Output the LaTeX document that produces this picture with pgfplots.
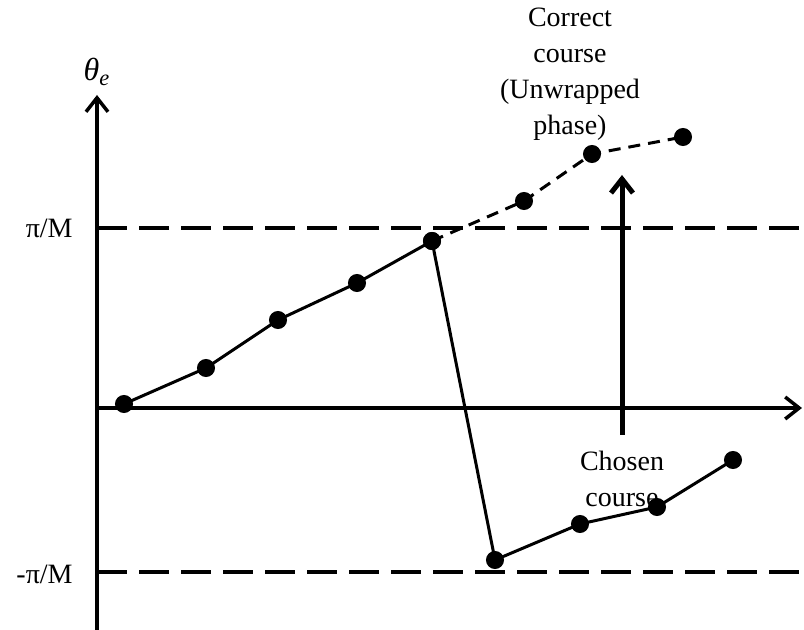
\documentclass[border=0pt]{standalone}
\usepackage{fontspec}
\setmainfont{Liberation Serif}
\usepackage{pgfplots}
\pgfplotsset{compat=1.18}
\usetikzlibrary{arrows.meta}
\begin{document}
\begin{tikzpicture}
\begin{axis}[
  scale only axis, width=402pt, height=315pt,
  xmin=-97, xmax=707, ymin=-222, ymax=408,
  hide axis, clip=false,
  font=\fontsize{14}{18}\selectfont,
]
% axes
\addplot[black, line width=1.75pt, -{Straight Barb[length=7pt,width=11pt]}] coordinates {(0,-222) (0,313)};
\addplot[black, line width=1.75pt, -{Straight Barb[length=7pt,width=11pt]}] coordinates {(0,0) (705,0)};
% pi/M levels
\addplot[black, line width=1.75pt, dash pattern=on 15pt off 6pt] coordinates {(0,180) (707,180)};
\addplot[black, line width=1.75pt, dash pattern=on 15pt off 6pt] coordinates {(0,-164) (707,-164)};
% correct course (dashed)
\addplot[black, line width=1.5pt, dash pattern=on 6pt off 4pt, mark=*, mark size=3.75pt, mark options={solid}] coordinates {(335,167) (427,207) (495,254) (586,271)};
% chosen course
\addplot[black, line width=1.5pt, mark=*, mark size=3.75pt] coordinates {(27,4) (109,40) (181,88) (260,125) (335,167) (398,-152) (483,-116) (560,-99) (636,-52)};
% vertical arrow
\addplot[black, line width=2.5pt, -{Straight Barb[length=7pt,width=11pt]}] coordinates {(525,-27) (525,233)};
% labels
\node at (axis cs:0,336) {\fontsize{16}{19}\selectfont\textit{θ}\textsubscript{\textit{e}}};
\node[anchor=east, inner sep=0pt] at (axis cs:-24,180) {π/M};
\node[anchor=east, inner sep=0pt] at (axis cs:-24,-166) {-π/M};
\node[align=center, anchor=north, inner sep=0pt] at (axis cs:473,400) {Correct\\course\\(Unwrapped\\phase)};
\node[align=center, inner sep=0pt] at (axis cs:525,-71) {Chosen\\course};
\end{axis}
\pgfresetboundingbox
\path (0,0) rectangle (402pt,315pt);
\end{tikzpicture}
\end{document}
